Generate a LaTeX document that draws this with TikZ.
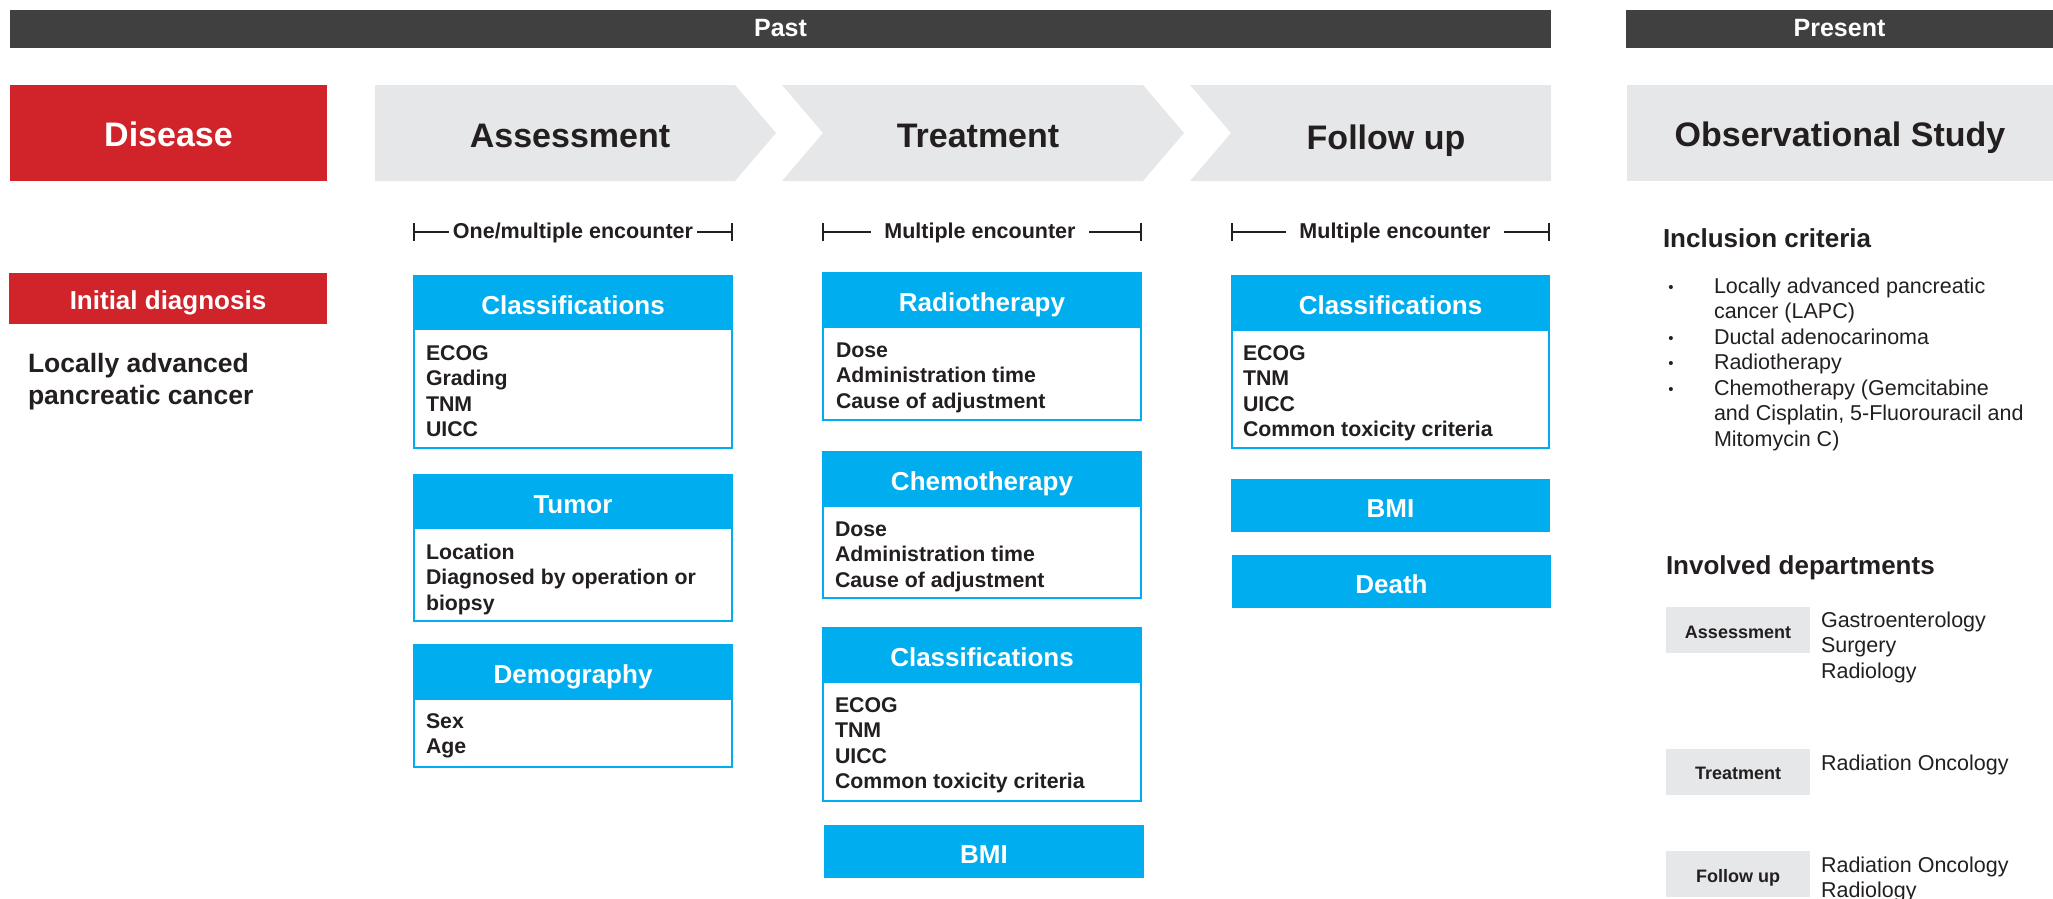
\documentclass[tikz,border=0pt]{standalone}
\usepackage{fontspec}
\setmainfont{Liberation Sans}
\usetikzlibrary{calc}
\definecolor{darkbar}{HTML}{404040}
\definecolor{dred}{HTML}{D0232A}
\definecolor{lgrey}{HTML}{E6E7E8}
\definecolor{cblue}{HTML}{00AEEF}
\definecolor{ink}{HTML}{231F20}
\newcommand{\myfs}[1]{\fontsize{#1}{#1}\selectfont}
\tikzset{
  every node/.style={inner sep=0pt, outer sep=0pt},
  darkband/.style={fill=darkbar, text=white, font=\myfs{25}\bfseries, minimum height=38pt, text height=16pt, text depth=0pt},
  redbox/.style={fill=dred, text=white, font=\myfs{34}\bfseries},
  ttl/.style={anchor=base, text=ink, font=\myfs{34}\bfseries},
  chev/.style={fill=lgrey},
  hdr/.style={fill=cblue, draw=cblue, line width=2.5pt, text=white, font=\myfs{26}\bfseries, text height=23pt, text depth=0pt},
  bodybox/.style={draw=cblue, fill=white, line width=2.5pt},
  itm/.style={anchor=base west, text=ink, font=\myfs{21.3}\bfseries},
  enc/.style={anchor=base, text=ink, font=\myfs{21.5}\bfseries, fill=white},
  bracket/.style={line width=2.5pt, draw=ink},
  dept/.style={fill=lgrey, text=ink, font=\myfs{18}\bfseries, minimum width=144pt, minimum height=46pt, text height=16pt, text depth=0pt},
  plaintxt/.style={anchor=base west, text=ink, font=\myfs{21.5}},
  hd/.style={anchor=base west, text=ink, font=\myfs{26}\bfseries},
  bul/.style={anchor=base, text=ink, font=\myfs{15}}
}
% #1 name, #2 xleft, #3 xright, #4 top, #5 header bottom, #6 bottom, #7 title
\newcommand{\catbox}[7]{%
  \node[bodybox, minimum width={#3-#2}, minimum height={#6-#4}] (#1) at ({(#2+#3)/2},{(#4+#6)/2}) {};
  \node[hdr, minimum width={#3-#2}, minimum height={#5-#4}] (#1-h) at ({(#2+#3)/2},{(#4+#5)/2}) {#7};
}
% #1 name prefix, #2 x, #3 first baseline, #4 list
\newcommand{\itemlines}[4]{%
  \foreach \lbl [count=\i] in {#4} \node[itm] (#1-\i) at (#2,{#3+25.6*(\i-1)}) {\lbl};
}
\begin{document}
\begin{tikzpicture}[x=1pt, y=-1pt]
\useasboundingbox (0,0) rectangle (2053,899);

% top bars
\node[darkband, minimum width=1541pt] (past) at (780.5,29) {Past};
\node[darkband, minimum width=427pt] (present) at (1839.5,29) {Present};

% disease
\node[redbox, minimum width=317pt, minimum height=96pt, text height=26pt, text depth=0pt] (disease) at (168.5,133) {Disease};

% chevrons
\fill[chev] (375,85) -- (735,85) -- (776,133) -- (735,181) -- (375,181) -- cycle;
\fill[chev] (782,85) -- (1143,85) -- (1184,133) -- (1143,181) -- (782,181) -- (823,133) -- cycle;
\fill[chev] (1190,85) -- (1551,85) -- (1551,181) -- (1190,181) -- (1231,133) -- cycle;
\node[ttl] (tassess) at (570,147) {Assessment};
\node[ttl] (ttreat) at (978,147) {Treatment};
\node[ttl] (tfollow) at (1386,149) {Follow up};
\node[fill=lgrey, text=ink, font=\myfs{34}\bfseries, minimum width=427pt, minimum height=96pt, text height=26pt, text depth=0pt] (obs) at (1840,133) {Observational Study};

% initial diagnosis
\node[redbox, font=\myfs{26}\bfseries, minimum width=318pt, minimum height=51pt, text height=21pt, text depth=0pt] (init) at (168,298.5) {Initial diagnosis};
\node[anchor=base west, text=ink, font=\myfs{26.5}\bfseries] (lapc1) at (28,372) {Locally advanced};
\node[anchor=base west, text=ink, font=\myfs{26.5}\bfseries] (lapc2) at (28,404) {pancreatic cancer};

% encounter brackets
\coordinate (b1l) at (414,232); \coordinate (b1r) at (732,232);
\draw[bracket] (b1l) -- (b1r);
\node[enc, inner xsep=4pt] (b1t) at (573,238) {One/multiple encounter};
\draw[bracket] ([yshift=-9pt]b1l) -- ([yshift=9pt]b1l);
\draw[bracket] ([yshift=-9pt]b1r) -- ([yshift=9pt]b1r);

\coordinate (b2l) at (823,232); \coordinate (b2r) at (1141,232);
\draw[bracket] (b2l) -- (b2r);
\node[enc, inner xsep=13pt] (b2t) at (980,238) {Multiple encounter};
\draw[bracket] ([yshift=-9pt]b2l) -- ([yshift=9pt]b2l);
\draw[bracket] ([yshift=-9pt]b2r) -- ([yshift=9pt]b2r);

\coordinate (b3l) at (1232,232); \coordinate (b3r) at (1549,232);
\draw[bracket] (b3l) -- (b3r);
\node[enc, inner xsep=13pt] (b3t) at (1395,238) {Multiple encounter};
\draw[bracket] ([yshift=-9pt]b3l) -- ([yshift=9pt]b3l);
\draw[bracket] ([yshift=-9pt]b3r) -- ([yshift=9pt]b3r);

% assessment column
\catbox{acl}{414}{732}{276}{329}{448}{Classifications}
\itemlines{acli}{426}{360}{ECOG,Grading,TNM,UICC}
\catbox{atu}{414}{732}{475}{528}{621}{Tumor}
\itemlines{atui}{426}{559}{Location,Diagnosed by operation or,biopsy}
\catbox{ade}{414}{732}{645}{699}{767}{Demography}
\itemlines{adei}{426}{728}{Sex,Age}

% treatment column
\catbox{trt}{823}{1141}{273}{327}{420}{Radiotherapy}
\itemlines{trti}{836}{357}{Dose,Administration time,Cause of adjustment}
\catbox{tch}{823}{1141}{452}{506}{598}{Chemotherapy}
\itemlines{tchi}{835}{536}{Dose,Administration time,Cause of adjustment}
\catbox{tcl}{823}{1141}{628}{682}{801}{Classifications}
\itemlines{tcli}{835}{712}{ECOG,TNM,UICC,Common toxicity criteria}
\node[hdr, minimum width=318pt, minimum height=51pt] (tbmi) at (984,851.5) {BMI};

% follow up column
\catbox{fcl}{1232}{1549}{276}{330}{448}{Classifications}
\itemlines{fcli}{1243}{360}{ECOG,TNM,UICC,Common toxicity criteria}
\node[hdr, minimum width=317pt, minimum height=51pt] (fbmi) at (1390.5,505.5) {BMI};
\node[hdr, minimum width=317pt, minimum height=51pt] (fdeath) at (1391.5,581.5) {Death};

% inclusion criteria
\node[hd] (inc) at (1663,247) {Inclusion criteria};
\node[bul] (bu1) at (1671,292) {•};
\node[bul] (bu2) at (1671,343) {•};
\node[bul] (bu3) at (1671,368.5) {•};
\node[bul] (bu4) at (1671,394) {•};
\node[plaintxt] (in1) at (1714,293) {Locally advanced pancreatic};
\node[plaintxt] (in2) at (1714,318.5) {cancer (LAPC)};
\node[plaintxt] (in3) at (1714,344) {Ductal adenocarinoma};
\node[plaintxt] (in4) at (1714,369.5) {Radiotherapy};
\node[plaintxt] (in5) at (1714,395) {Chemotherapy (Gemcitabine};
\node[plaintxt] (in6) at (1714,420.5) {and Cisplatin, 5-Fluorouracil and};
\node[plaintxt] (in7) at (1714,446) {Mitomycin C)};

% involved departments
\node[hd] (inv) at (1666,574) {Involved departments};
\node[dept] (dasmt) at (1738,630) {Assessment};
\node[dept] (dtrt) at (1738,771.5) {Treatment};
\node[dept] (dfu) at (1738,874) {Follow up};
\node[plaintxt] (da1) at (1821,627) {Gastroenterology};
\node[plaintxt] (da2) at (1821,652.5) {Surgery};
\node[plaintxt] (da3) at (1821,678) {Radiology};
\node[plaintxt] (dt1) at (1821,770) {Radiation Oncology};
\node[plaintxt] (df1) at (1821,872) {Radiation Oncology};
\node[plaintxt] (df2) at (1821,897) {Radiology};
\end{tikzpicture}
\end{document}
